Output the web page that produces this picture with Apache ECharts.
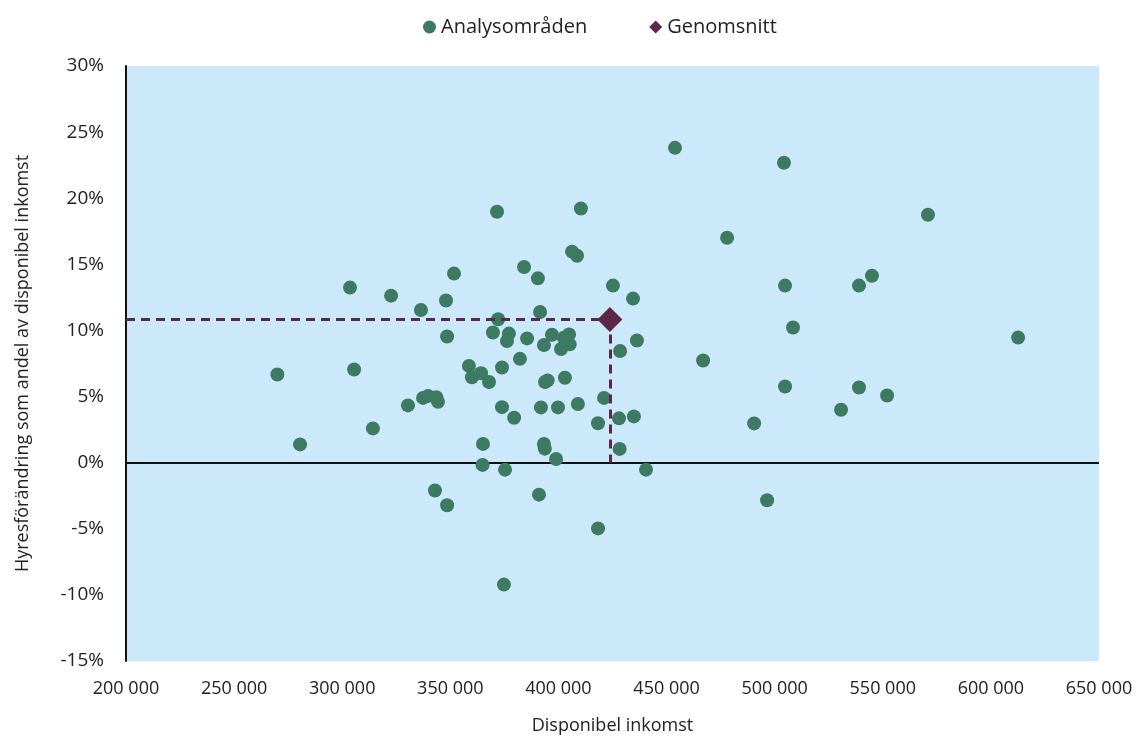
<!DOCTYPE html>
<html>
<head>
<meta charset="utf-8">
<script src="https://cdn.jsdelivr.net/npm/echarts@6/dist/echarts.min.js"></script>
<style>
  html, body { margin: 0; padding: 0; background: #fff; }
  #chart { width: 1143px; height: 740px; }
</style>
</head>
<body>
<div id="chart"></div>
<script>
// disponibel inkomst (kr) per analysområde
const income = [
  270000, 280500, 303600, 305500, 314200, 322600, 330400, 336400, 337400, 339700,
  344300, 343500, 342900, 348500, 348500, 348000, 351700, 358600, 360000, 364200,
  367900, 365100, 364900, 369700, 371600, 372100, 373900, 373900, 374800, 375300,
  376200, 377100, 379500, 382200, 384100, 385500, 390500, 391500, 391900, 391000,
  393300, 393300, 393700, 393800, 395000, 397000, 398900, 399800, 401200, 403000,
  402500, 404900, 405200, 406300, 408600, 409000, 410400, 418300, 418300, 421100,
  425200, 428000, 428500, 428300, 434500, 434900, 436300, 440500, 453900, 466900,
  478000, 490500, 496500, 504300, 504800, 504800, 508500, 530700, 539000, 539000,
  545000, 552000, 570900, 612600
]
// hyresförändring som andel av disponibel inkomst (%)
const rentChange = [
  6.67, 1.38, 13.24, 7.05, 2.59, 12.63, 4.33, 11.55, 4.9, 5.05,
  4.6, 4.95, -2.1, -3.22, 9.54, 12.26, 14.3, 7.32, 6.46, 6.76,
  6.1, 1.42, -0.17, 9.84, 18.98, 10.85, 7.2, 4.2, -9.22, -0.53,
  9.2, 9.76, 3.4, 7.85, 14.8, 9.4, 13.94, 11.4, 4.18, -2.42,
  8.9, 1.42, 1.06, 6.1, 6.22, 9.68, 0.28, 4.18, 8.6, 6.42,
  9.45, 9.7, 8.95, 15.96, 15.65, 4.44, 19.22, -4.97, 2.98, 4.9,
  13.39, 3.35, 8.45, 1.04, 12.41, 3.5, 9.24, -0.53, 23.81, 7.73,
  17.01, 2.97, -2.84, 22.68, 13.39, 5.76, 10.22, 4.0, 13.39, 5.69,
  14.14, 5.08, 18.75, 9.46
]
// genomsnitt
const avgIncome = 423800
const avgRent = 10.82

const xTicks = [200000, 650000, 50000]
const yTicks = [-15, 30, 5]

const green = '#3d7a62'
const plum = '#5e2648'
const font = '"Open Sans", Lato, sans-serif'

const points = income.map((x, i) => [x, rentChange[i]])

const fmtThousands = (v) => String(v).replace(/\B(?=(\d{3})+(?!\d))/g, ' ')

const myChart = echarts.init(document.getElementById('chart'))
const option = {
  animation: false,
  textStyle: { fontFamily: font },
  grid: {
    left: 126,
    right: 44,
    top: 66,
    bottom: 78,
    show: true,
    backgroundColor: '#cce9fb',
    borderWidth: 0
  },
  legend: {
    top: 12,
    left: 418,
    itemGap: 62,
    itemWidth: 13,
    itemHeight: 13,
    textStyle: { fontSize: 20, color: '#222', fontFamily: font },
    data: [
      { name: 'Analysområden', icon: 'circle' },
      { name: 'Genomsnitt', icon: 'diamond' }
    ]
  },
  xAxis: {
    type: 'value',
    min: xTicks[0],
    max: xTicks[1],
    interval: xTicks[2],
    name: 'Disponibel inkomst',
    nameLocation: 'middle',
    nameGap: 56,
    nameTextStyle: { fontSize: 18, color: '#222' },
    axisLine: { show: false },
    axisTick: { show: false },
    splitLine: { show: false },
    axisLabel: {
      margin: 19,
      fontSize: 18,
      color: '#222',
      formatter: fmtThousands
    }
  },
  yAxis: {
    type: 'value',
    min: yTicks[0],
    max: yTicks[1],
    interval: yTicks[2],
    name: 'Hyresförändring som andel av disponibel inkomst',
    nameLocation: 'middle',
    nameGap: 94,
    nameTextStyle: { fontSize: 18, color: '#222' },
    axisLine: { show: true, lineStyle: { color: '#111', width: 2 } },
    axisTick: { show: false },
    splitLine: { show: false },
    axisLabel: {
      margin: 22,
      fontSize: 19,
      color: '#222',
      formatter: (v) => v + '%'
    }
  },
  series: [
    {
      name: 'Analysområden',
      type: 'scatter',
      symbol: 'circle',
      symbolSize: 14,
      itemStyle: { color: green, opacity: 1 },
      data: points,
      z: 3,
      markLine: {
        silent: true,
        symbol: 'none',
        label: { show: false },
        lineStyle: { color: '#111', width: 2, type: 'solid' },
        data: [{ yAxis: 0 }],
        z: 1
      }
    },
    {
      name: 'Genomsnitt',
      type: 'scatter',
      symbol: 'diamond',
      symbolSize: 25,
      itemStyle: { color: plum, opacity: 1 },
      data: [[avgIncome, avgRent]],
      z: 5,
      markLine: {
        silent: true,
        symbol: 'none',
        label: { show: false },
        lineStyle: { color: plum, width: 3, type: [9, 6] },
        data: [
          [{ coord: [xTicks[0], avgRent] }, { coord: [avgIncome, avgRent] }],
          [{ coord: [avgIncome, avgRent] }, { coord: [avgIncome, 0] }]
        ],
        z: 4
      }
    }
  ]
}
myChart.setOption(option)
window.addEventListener('resize', () => {
  myChart.resize()
})
</script>
</body>
</html>
